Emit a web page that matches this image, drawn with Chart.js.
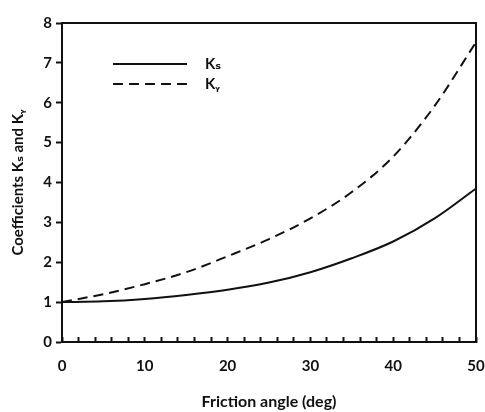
<!DOCTYPE html>
<html>
<head>
<meta charset="utf-8">
<script src="https://cdn.jsdelivr.net/npm/chart.js@4.4.0/dist/chart.umd.min.js"></script>
<style>
  html, body { margin: 0; padding: 0; background: #fff; }
  #wrap { width: 485px; height: 412px; }
</style>
</head>
<body>
<div id="wrap"><canvas id="myChart"></canvas></div>
<script>
// ----- data -----
var angles = [0, 5, 10, 15, 20, 25, 30, 35, 40, 45, 50];
var ksVals = [1.0, 1.02, 1.08, 1.18, 1.31, 1.49, 1.75, 2.1, 2.52, 3.1, 3.85];
var kgVals = [1.0, 1.2, 1.45, 1.75, 2.15, 2.58, 3.1, 3.76, 4.65, 5.92, 7.52];
var seriesNames = ['K\u209B', 'K\u1D67'];
var xTickLabels = [0, 10, 20, 30, 40, 50];

function pts(xs, ys) {
    var out = [];
    xs.forEach((x, i) => { out.push({x: x, y: ys[i]}); });
    return out;
}

var FONT = 'Lato, "DejaVu Sans", sans-serif';

// legend drawn inside the plot, top-left
const innerLegend = {
    id: 'innerLegend',
    afterDatasetsDraw(chart) {
        const ctx = chart.ctx;
        const a = chart.chartArea;
        chart.data.datasets.forEach((ds, i) => {
            var y = a.top + 41 + i * 20;
            var x0 = a.left + 51;
            ctx.save();
            ctx.strokeStyle = ds.borderColor;
            ctx.lineWidth = ds.borderWidth;
            ctx.setLineDash(ds.borderDash || []);
            ctx.beginPath();
            ctx.moveTo(x0, y);
            ctx.lineTo(x0 + 74, y);
            ctx.stroke();
            ctx.setLineDash([]);
            ctx.fillStyle = '#111';
            ctx.font = 'bold 15px ' + FONT;
            ctx.textBaseline = 'middle';
            ctx.fillText(ds.label, x0 + 92, y);
            ctx.restore();
        });
    }
};

// box around the plot area
const frame = {
    id: 'frame',
    afterDraw(chart) {
        const ctx = chart.ctx;
        const a = chart.chartArea;
        ctx.save();
        ctx.strokeStyle = '#111';
        ctx.lineWidth = 2;
        ctx.strokeRect(a.left, a.top, a.right - a.left, a.bottom - a.top);
        ctx.restore();
    }
};

const data = {
    datasets: [{
        label: seriesNames[0],
        data: pts(angles, ksVals),
        borderColor: '#111',
        borderWidth: 2,
        pointRadius: 0,
        cubicInterpolationMode: 'monotone',
        fill: false
    }, {
        label: seriesNames[1],
        data: pts(angles, kgVals),
        borderColor: '#111',
        borderWidth: 2,
        borderDash: [10, 6],
        pointRadius: 0,
        cubicInterpolationMode: 'monotone',
        fill: false
    }]
};

const config = {
    type: 'line',
    data: data,
    plugins: [innerLegend, frame],
    options: {
        responsive: true,
        maintainAspectRatio: false,
        animation: false,
        layout: { padding: { left: 0, right: 9, top: 23, bottom: 0 } },
        scales: {
            x: {
                type: 'linear',
                min: 0,
                max: 50,
                ticks: {
                    stepSize: 2,
                    autoSkip: false,
                    maxRotation: 0,
                    padding: 20,
                    color: '#111',
                    font: { size: 15, weight: 'bold', family: FONT },
                    callback: function(v) {
                        return xTickLabels.indexOf(v) >= 0 ? String(v) : '';
                    }
                },
                grid: {
                    drawOnChartArea: false,
                    drawTicks: true,
                    tickLength: -5,
                    tickColor: '#111',
                    tickWidth: 2
                },
                border: { color: '#111', width: 2 },
                title: {
                    display: true,
                    text: 'Friction angle (deg)',
                    color: '#111',
                    font: { size: 16, weight: 'bold', family: FONT },
                    padding: { top: 0, bottom: 1 }
                },
                afterFit: function(s) {
                    s.height = 70;
                    s.paddingRight = 0;
                    s.paddingLeft = 0;
                }
            },
            y: {
                min: 0,
                max: 8,
                ticks: {
                    stepSize: 1,
                    padding: 4,
                    color: '#111',
                    font: { size: 15, weight: 'bold', family: FONT }
                },
                grid: {
                    drawOnChartArea: false,
                    drawTicks: true,
                    tickLength: 6,
                    tickColor: '#111',
                    tickWidth: 2
                },
                border: { color: '#111', width: 2 },
                title: {
                    display: true,
                    text: 'Coefficients K\u209B and K\u1D67',
                    color: '#111',
                    font: { size: 15, weight: 'bold', family: FONT },
                    padding: { top: 9, bottom: 0 }
                },
                afterFit: function(s) {
                    s.width = 62;
                    s.paddingTop = 0;
                    s.paddingBottom = 0;
                }
            }
        },
        plugins: {
            legend: { display: false },
            tooltip: { enabled: false }
        }
    }
};

const myChart = new Chart(document.getElementById('myChart').getContext('2d'), config);
</script>
</body>
</html>
